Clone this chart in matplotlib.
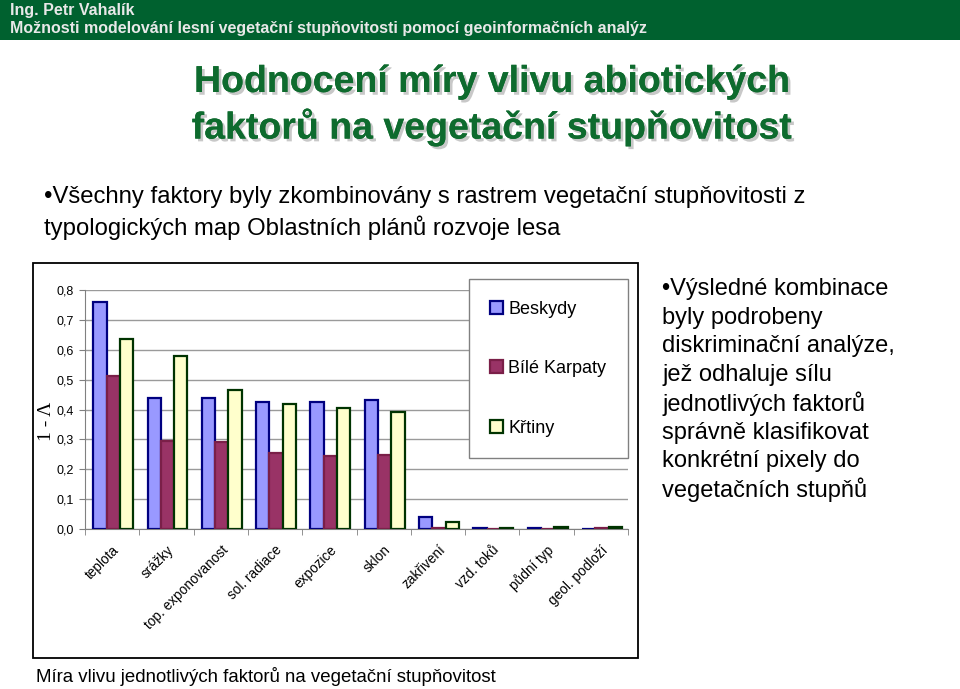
import numpy as np
import matplotlib
matplotlib.use('Agg')
import matplotlib.pyplot as plt
import matplotlib.patheffects as pe
from matplotlib.patches import Rectangle
from matplotlib.ticker import FuncFormatter, FixedLocator

# data
factors = ['teplota', 'srážky', 'top. exponovanost', 'sol. radiace', 'expozice',
           'sklon', 'zakřivení', 'vzd. toků', 'půdní typ', 'geol. podloží']
beskydy = [0.760, 0.440, 0.440, 0.425, 0.425, 0.432, 0.041, 0.002, 0.002, 0.001]
bile_karpaty = [0.513, 0.295, 0.290, 0.255, 0.245, 0.248, 0.003, 0.001, 0.001, 0.004]
krtiny = [0.635, 0.580, 0.465, 0.420, 0.405, 0.392, 0.023, 0.002, 0.008, 0.006]
series_names = ['Beskydy', 'Bílé Karpaty', 'Křtiny']

W, H = 960, 689
plt.rcParams['font.family'] = ['Liberation Sans', 'DejaVu Sans']
fig = plt.figure(figsize=(W / 100, H / 100), dpi=100)

def fx(px):
    return px / W

def fy(py):
    return 1 - py / H

# header band
fig.patches.append(Rectangle((0, fy(40)), 1, 40 / H, transform=fig.transFigure,
                             facecolor='#00612F', edgecolor='none', zorder=0))
fig.text(fx(10), fy(10), 'Ing. Petr Vahalík', color='#E8E8E8', fontsize=11.5,
         fontweight='bold', va='center', ha='left')
fig.text(fx(10), fy(28), 'Možnosti modelování lesní vegetační stupňovitosti pomocí geoinformačních analýz',
         color='#E8E8E8', fontsize=11.5, fontweight='bold', va='center', ha='left')

# title
shadow = [pe.withSimplePatchShadow(offset=(2, -2), shadow_rgbFace='#BBBBBB', alpha=0.8), pe.Normal()]
for txt, y in [('Hodnocení míry vlivu abiotických', 82), ('faktorů na vegetační stupňovitost', 127)]:
    fig.text(fx(492), fy(y), txt, color='#0E6B2E', fontsize=27, fontweight='bold',
             ha='center', va='center', path_effects=shadow)

# bullet text
fig.text(fx(44), fy(197), '•Všechny faktory byly zkombinovány s rastrem vegetační stupňovitosti z',
         fontsize=17.2, va='center', ha='left')
fig.text(fx(44), fy(228), 'typologických map Oblastních plánů rozvoje lesa',
         fontsize=17.2, va='center', ha='left')

right_lines = ['•Výsledné kombinace', 'byly podrobeny', 'diskriminační analýze,',
               'jež odhaluje sílu', 'jednotlivých faktorů', 'správně klasifikovat',
               'konkrétní pixely do', 'vegetačních stupňů']
for i, line in enumerate(right_lines):
    fig.text(fx(662), fy(289 + i * 28.7), line, fontsize=17, va='center', ha='left')

fig.text(fx(36), fy(677), 'Míra vlivu jednotlivých faktorů na vegetační stupňovitost',
         fontsize=13.4, va='center', ha='left')

# chart frame
fig.patches.append(Rectangle((fx(33), fy(658)), (638 - 33) / W, (658 - 263) / H,
                             transform=fig.transFigure, facecolor='white',
                             edgecolor='black', lw=1.3, zorder=0.5))

ax = fig.add_axes([fx(85), fy(529), (628 - 85) / W, (529 - 290) / H])
ax.set_zorder(1)
x = np.arange(len(factors))
bw = 0.245
colors = ['#9999FF', '#993366', '#FFFFCC']
edges = ['#000080', '#7A1F48', '#003300']
for i, (vals, name) in enumerate(zip([beskydy, bile_karpaty, krtiny], series_names)):
    ax.bar(x + (i - 1) * bw + 0.02, vals, bw, color=colors[i], edgecolor=edges[i],
           linewidth=1.6, label=name, zorder=3)

ax.set_xlim(-0.5, len(factors) - 0.5)
ax.set_ylim(0, 0.8)
ax.set_yticks(np.arange(0, 0.81, 0.1))
ax.yaxis.set_major_formatter(FuncFormatter(lambda v, p: f'{v:.1f}'.replace('.', ',')))
ax.yaxis.grid(True, color='#9A9A9A', lw=1.0, zorder=0)
for s in ['top', 'right']:
    ax.spines[s].set_visible(False)
ax.spines['left'].set_color('#808080')
ax.spines['bottom'].set_color('#808080')
ax.tick_params(axis='y', labelsize=9, length=4, color='#808080', pad=4)
ax.set_xticks(x)
ax.set_xticklabels(factors, rotation=45, ha='right', rotation_mode='anchor', fontsize=9.8)
ax.tick_params(axis='x', which='major', length=0, pad=10)
ax.xaxis.set_minor_locator(FixedLocator(np.arange(-0.5, len(factors), 1.0)))
ax.tick_params(axis='x', which='minor', length=4, color='#808080')
ax.set_ylabel('1 - Λ', family=['Liberation Serif', 'DejaVu Serif'], fontsize=14)
ax.yaxis.set_label_coords(-30 / 543, (529 - 421) / 239)

leg = ax.legend(loc='upper right', bbox_to_anchor=(1.0, 1.046), borderaxespad=0, fontsize=13,
                labelspacing=2.35, borderpad=1.2, handlelength=0.7, handleheight=0.7,
                handletextpad=0.3, fancybox=False, framealpha=1, edgecolor='#808080')
leg.get_frame().set_linewidth(1.0)

fig.savefig('out.png', dpi=100)
